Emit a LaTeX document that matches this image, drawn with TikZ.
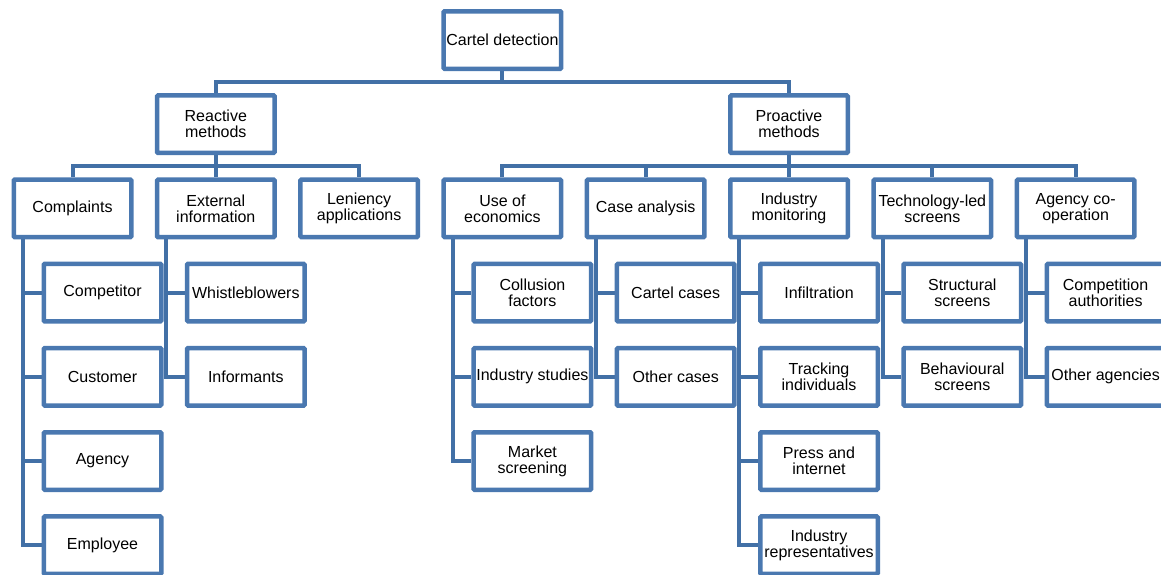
\documentclass[tikz,border=0pt]{standalone}
\usepackage{fontspec}
\setmainfont{Liberation Sans}
\usetikzlibrary{backgrounds}
\definecolor{boxblue}{HTML}{4A78B0}
\definecolor{linkblue}{HTML}{4270A6}
\tikzset{
  box/.style={draw=boxblue, line width=4.5pt, fill=white, rounded corners=1pt,
    minimum width=117.5pt, minimum height=57.5pt, inner sep=0pt, align=center,
    font=\fontsize{16pt}{16pt}\selectfont, text=black},
  conn/.style={draw=linkblue, line width=4pt}
}
\begin{document}
\begin{tikzpicture}[x=1pt,y=-1pt]
\useasboundingbox (0,0) rectangle (1161,574);
\clip (0,0) rectangle (1161,574);
% level 0 and 1
\node[box] (root) at (502.4,40) {Cartel detection};
\node[box] (reactive) at (215.8,124.2) {Reactive\\methods};
\node[box] (proactive) at (789,124.2) {Proactive\\methods};
% level 2
\node[box] (complaints) at (72.5,208.4) {Complaints};
\node[box] (external) at (215.8,208.4) {External\\information};
\node[box] (leniency) at (359.1,208.4) {Leniency\\applications};
\node[box] (economics) at (502.4,208.4) {Use of\\economics};
\node[box] (caseanalysis) at (645.7,208.4) {Case analysis};
\node[box] (monitoring) at (789,208.4) {Industry\\monitoring};
\node[box] (techscreens) at (932.3,208.4) {Technology-led\\screens};
\node[box] (agencycoop) at (1075.6,208.4) {Agency co-\\operation};
% level 3
\node[box] (competitor) at (102.5,292.6) {Competitor};
\node[box] (customer) at (102.5,376.8) {Customer};
\node[box] (agency) at (102.5,461) {Agency};
\node[box] (employee) at (102.5,545.2) {Employee};
\node[box] (whistle) at (245.8,292.6) {Whistleblowers};
\node[box] (informants) at (245.8,376.8) {Informants};
\node[box] (collusion) at (532.4,292.6) {Collusion\\factors};
\node[box] (indstudies) at (532.4,376.8) {Industry studies};
\node[box] (marketscr) at (532.4,461) {Market\\screening};
\node[box] (cartelcases) at (675.7,292.6) {Cartel cases};
\node[box] (othercases) at (675.7,376.8) {Other cases};
\node[box] (infiltration) at (819,292.6) {Infiltration};
\node[box] (tracking) at (819,376.8) {Tracking\\individuals};
\node[box] (press) at (819,461) {Press and\\internet};
\node[box] (indrep) at (819,545.2) {Industry\\representatives};
\node[box] (structural) at (962.3,292.6) {Structural\\screens};
\node[box] (behavioural) at (962.3,376.8) {Behavioural\\screens};
\node[box] (compauth) at (1105.6,292.6) {Competition\\authorities};
\node[box] (otheragencies) at (1105.6,376.8) {Other agencies};
% connectors
\coordinate (barA) at (0,82);
\coordinate (barB) at (0,166);
\begin{scope}[on background layer]
\draw[conn] (root.south) -- (root.south |- barA);
\draw[conn] (reactive.north) -- (reactive.north |- barA) -| (proactive.north);
\draw[conn] (reactive.south) -- (reactive.south |- barB);
\draw[conn] (complaints.north) -- (complaints.north |- barB) -| (leniency.north);
\draw[conn] (external.north) -- (external.north |- barB);
\draw[conn] (proactive.south) -- (proactive.south |- barB);
\draw[conn] (economics.north) -- (economics.north |- barB) -| (agencycoop.north);
\draw[conn] (caseanalysis.north) -- (caseanalysis.north |- barB);
\draw[conn] (monitoring.north) -- (monitoring.north |- barB);
\draw[conn] (techscreens.north) -- (techscreens.north |- barB);
\foreach \p/\c in {complaints/competitor,complaints/customer,complaints/agency,complaints/employee,
  external/whistle,external/informants,
  economics/collusion,economics/indstudies,economics/marketscr,
  caseanalysis/cartelcases,caseanalysis/othercases,
  monitoring/infiltration,monitoring/tracking,monitoring/press,monitoring/indrep,
  techscreens/structural,techscreens/behavioural,
  agencycoop/compauth,agencycoop/otheragencies}
  \draw[conn] ([xshift=11.25pt]\p.south west) |- (\c.west);
\end{scope}
\end{tikzpicture}
\end{document}
